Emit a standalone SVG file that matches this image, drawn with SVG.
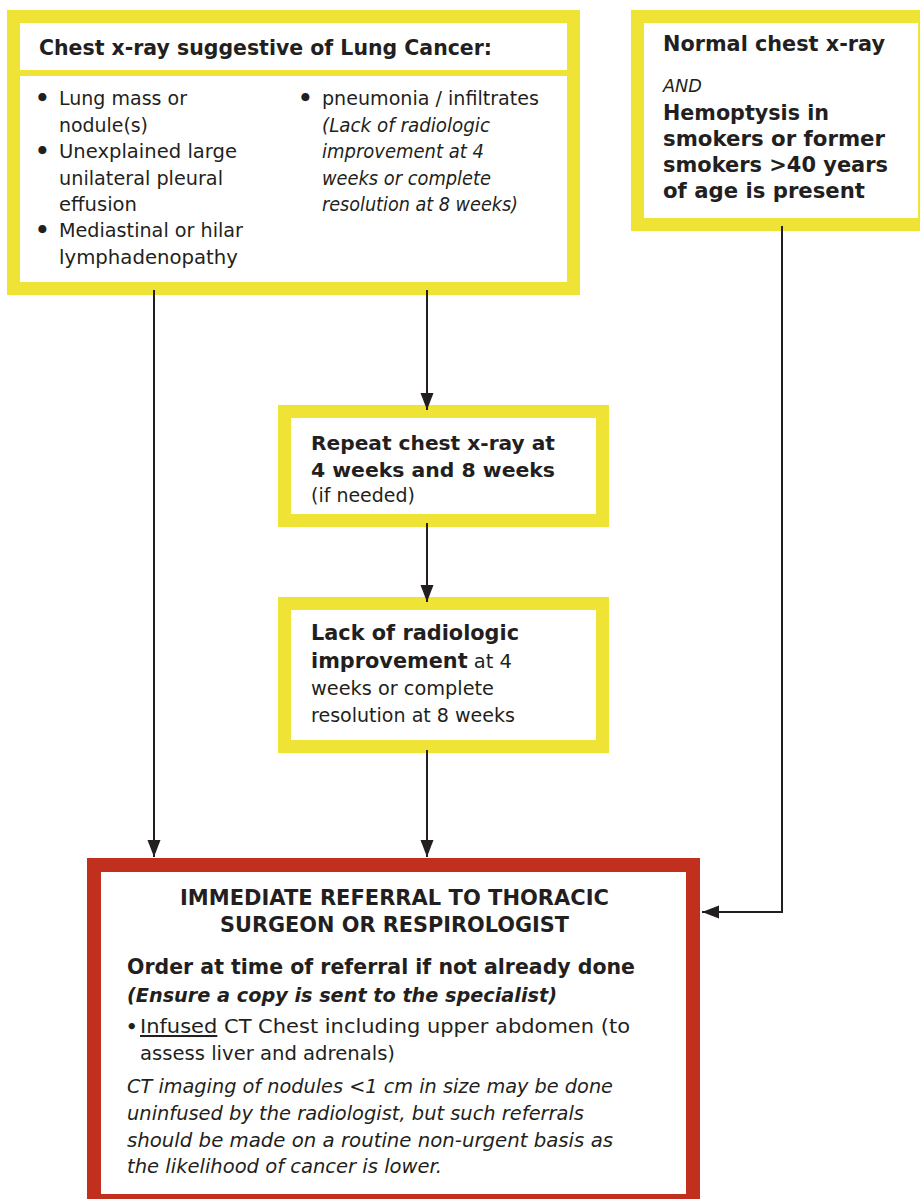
<svg xmlns="http://www.w3.org/2000/svg" width="920" height="1199" viewBox="0 0 920 1199">
<style>
text{font-family:"DejaVu Sans","Liberation Sans",sans-serif;fill:#231f20}
.b{font-weight:700}
.i{font-style:italic}
.t1{font-size:19.3px}
.t1i{font-size:18.6px;font-style:italic}
.bl{font-size:23px;font-weight:700}
.ybox{fill:#ffffff;stroke:#efe436;stroke-width:13}
.rbox{fill:#ffffff;stroke:#c12f1f;stroke-width:14}
.conn{fill:none;stroke:#231f20;stroke-width:2}
</style>
<defs>
<marker id="ah" markerUnits="userSpaceOnUse" markerWidth="18" markerHeight="14" refX="17" refY="6.5" orient="auto">
<path d="M0,0 L17,6.5 L0,13 Z" fill="#231f20"/>
</marker>
</defs>
<g id="node-chest-xray">
<rect class="ybox" x="13.5" y="16.5" width="560" height="272"/>
<rect x="20" y="70" width="547" height="6" fill="#efe436"/>
<text class="b" x="39" y="55" font-size="20.4" textLength="453" lengthAdjust="spacingAndGlyphs">Chest x-ray suggestive of Lung Cancer:</text>
<text class="bl" x="35" y="106">•</text>
<text class="t1" x="59" y="105" textLength="128" lengthAdjust="spacingAndGlyphs">Lung mass or</text>
<text class="t1" x="59" y="131.5" textLength="89" lengthAdjust="spacingAndGlyphs">nodule(s)</text>
<text class="bl" x="35" y="159">•</text>
<text class="t1" x="59" y="158" textLength="178" lengthAdjust="spacingAndGlyphs">Unexplained large</text>
<text class="t1" x="59" y="184.5" textLength="164" lengthAdjust="spacingAndGlyphs">unilateral pleural</text>
<text class="t1" x="59" y="211" textLength="78" lengthAdjust="spacingAndGlyphs">effusion</text>
<text class="bl" x="35" y="238">•</text>
<text class="t1" x="59" y="237" textLength="184" lengthAdjust="spacingAndGlyphs">Mediastinal or hilar</text>
<text class="t1" x="59" y="263.5" textLength="179" lengthAdjust="spacingAndGlyphs">lymphadenopathy</text>
<text class="bl" x="298" y="106">•</text>
<text class="t1" x="322" y="105" textLength="217" lengthAdjust="spacingAndGlyphs">pneumonia / infiltrates</text>
<text class="t1i" x="322" y="131.5" textLength="168" lengthAdjust="spacingAndGlyphs">(Lack of radiologic</text>
<text class="t1i" x="322" y="158" textLength="162" lengthAdjust="spacingAndGlyphs">improvement at 4</text>
<text class="t1i" x="322" y="184.5" textLength="169" lengthAdjust="spacingAndGlyphs">weeks or complete</text>
<text class="t1i" x="322" y="211" textLength="196" lengthAdjust="spacingAndGlyphs">resolution at 8 weeks)</text>
</g>
<g id="node-normal-xray">
<rect class="ybox" x="637.5" y="16.5" width="287" height="208"/>
<text class="b" x="663" y="51" font-size="20.7" textLength="222" lengthAdjust="spacingAndGlyphs">Normal chest x-ray</text>
<text class="i" x="663" y="92" font-size="18" textLength="39" lengthAdjust="spacingAndGlyphs">AND</text>
<text class="b" x="663" y="120" font-size="20.7" textLength="166" lengthAdjust="spacingAndGlyphs">Hemoptysis in</text>
<text class="b" x="663" y="146" font-size="20.7" textLength="222" lengthAdjust="spacingAndGlyphs">smokers or former</text>
<text class="b" x="663" y="172" font-size="20.7" textLength="225" lengthAdjust="spacingAndGlyphs">smokers &gt;40 years</text>
<text class="b" x="663" y="198" font-size="20.7" textLength="202" lengthAdjust="spacingAndGlyphs">of age is present</text>
</g>
<g id="node-repeat">
<rect class="ybox" x="284.5" y="411.5" width="318" height="109"/>
<text class="b" x="311" y="450" font-size="20.2" textLength="244" lengthAdjust="spacingAndGlyphs">Repeat chest x-ray at</text>
<text class="b" x="311" y="477" font-size="20.2" textLength="244" lengthAdjust="spacingAndGlyphs">4 weeks and 8 weeks</text>
<text x="311" y="502" font-size="19" textLength="104" lengthAdjust="spacingAndGlyphs">(if needed)</text>
</g>
<g id="node-lack">
<rect class="ybox" x="284.5" y="603.5" width="318" height="143"/>
<text class="b" x="311" y="640" font-size="20.5" textLength="208" lengthAdjust="spacingAndGlyphs">Lack of radiologic</text>
<text x="311" y="668" font-size="19.2" textLength="201" lengthAdjust="spacingAndGlyphs"><tspan class="b" font-size="20.5">improvement</tspan> at 4</text>
<text x="311" y="695" font-size="19.2" textLength="183" lengthAdjust="spacingAndGlyphs">weeks or complete</text>
<text x="311" y="722" font-size="19.2" textLength="204" lengthAdjust="spacingAndGlyphs">resolution at 8 weeks</text>
</g>
<g id="node-referral">
<rect class="rbox" x="94" y="865" width="599" height="336"/>
<text class="b" x="180" y="905" font-size="20.9" textLength="429" lengthAdjust="spacingAndGlyphs">IMMEDIATE REFERRAL TO THORACIC</text>
<text class="b" x="220" y="932" font-size="20.9" textLength="349" lengthAdjust="spacingAndGlyphs">SURGEON OR RESPIROLOGIST</text>
<text class="b" x="127" y="974" font-size="20.5" textLength="508" lengthAdjust="spacingAndGlyphs">Order at time of referral if not already done</text>
<text class="b i" x="127" y="1002" font-size="20" textLength="430" lengthAdjust="spacingAndGlyphs">(Ensure a copy is sent to the specialist)</text>
<text class="b" x="126" y="1033" font-size="18">•</text>
<text x="140" y="1033" font-size="20.3" textLength="490" lengthAdjust="spacingAndGlyphs"><tspan text-decoration="underline">Infused</tspan> CT Chest including upper abdomen (to</text>
<text x="140" y="1060" font-size="20" textLength="255" lengthAdjust="spacingAndGlyphs">assess liver and adrenals)</text>
<text class="i" x="127" y="1093" font-size="19.3" textLength="486" lengthAdjust="spacingAndGlyphs">CT imaging of nodules &lt;1 cm in size may be done</text>
<text class="i" x="127" y="1120" font-size="19.3" textLength="457" lengthAdjust="spacingAndGlyphs">uninfused by the radiologist, but such referrals</text>
<text class="i" x="127" y="1147" font-size="19.3" textLength="486" lengthAdjust="spacingAndGlyphs">should be made on a routine non-urgent basis as</text>
<text class="i" x="127" y="1173" font-size="19.3" textLength="315" lengthAdjust="spacingAndGlyphs">the likelihood of cancer is lower.</text>
</g>
<g id="connectors">
<path class="conn" d="M154,290 V857" marker-end="url(#ah)"/>
<path class="conn" d="M427,290 V410" marker-end="url(#ah)"/>
<path class="conn" d="M427,523 V602" marker-end="url(#ah)"/>
<path class="conn" d="M427,750 V857" marker-end="url(#ah)"/>
<path class="conn" d="M782,226 V912 H702" marker-end="url(#ah)"/>
</g>
</svg>
